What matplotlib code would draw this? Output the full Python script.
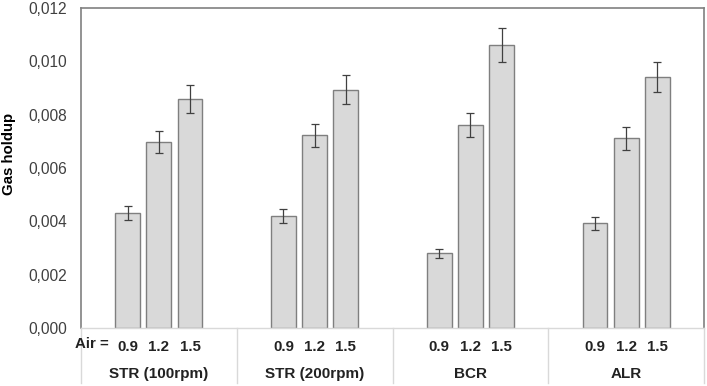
import matplotlib
matplotlib.use("Agg")
import matplotlib.pyplot as plt
import numpy as np
from matplotlib.transforms import blended_transform_factory
from matplotlib.lines import Line2D

groups = ["STR (100rpm)", "STR (200rpm)", "BCR", "ALR"]
air = ["0.9", "1.2", "1.5"]
values = {
    "0.9": [0.00430, 0.00420, 0.00280, 0.00393],
    "1.2": [0.00696, 0.00722, 0.00761, 0.00711],
    "1.5": [0.00859, 0.00893, 0.01062, 0.00941],
}
errors = {
    "0.9": [0.00026, 0.00026, 0.00016, 0.00024],
    "1.2": [0.00041, 0.00044, 0.00046, 0.00043],
    "1.5": [0.00052, 0.00054, 0.00064, 0.00056],
}
yticks = [0.0, 0.002, 0.004, 0.006, 0.008, 0.010, 0.012]
ytick_labels = ["0,000", "0,002", "0,004", "0,006", "0,008", "0,010", "0,012"]

plt.rcParams['font.family'] = ['Liberation Sans', 'DejaVu Sans']

fig = plt.figure(figsize=(7.07, 3.86), dpi=100)
ax = fig.add_axes([81/707, 58/386, 623/707, 320/386])

x = np.arange(len(groups))
offsets = [-0.2, 0.0, 0.2]
width = 0.16
for off, a in zip(offsets, air):
    ax.bar(x + off, values[a], width=width, color="#d9d9d9", edgecolor="#7f7f7f",
           linewidth=1.0, zorder=2)
    ax.errorbar(x + off, values[a], yerr=errors[a], fmt="none", ecolor="#404040",
                elinewidth=0.9, capsize=3, capthick=0.9, zorder=3)

ax.set_xlim(-0.5, len(groups) - 0.5)
ax.set_ylim(0, 0.012)
ax.set_yticks(yticks)
ax.set_yticklabels(ytick_labels, fontsize=11.2, color="#404040")
ax.tick_params(axis="y", length=0, pad=10)
ax.set_xticks([])
ax.set_ylabel("Gas holdup", fontsize=10.8, fontweight="bold")
ax.yaxis.set_label_coords(-0.104, 0.544)

for side in ["top", "right", "left"]:
    ax.spines[side].set_color("#808080")
    ax.spines[side].set_linewidth(1.2)
ax.spines["bottom"].set_color("#d9d9d9")
ax.spines["bottom"].set_linewidth(1.0)

trans = blended_transform_factory(ax.transData, fig.transFigure)
def fy(py):
    return 1 - py / 386

for i, g in enumerate(groups):
    for off, a in zip(offsets, air):
        fig.text(0, 0, a, transform=trans, fontsize=10.8, fontweight="bold",
                 ha="center", va="center", color="#222222").set_position((i + off, fy(347)))
    fig.text(0, 0, g, transform=trans, fontsize=11, fontweight="bold",
             ha="center", va="center", color="#222222").set_position((i, fy(374)))

fig.text(75/707, fy(344), "Air =", fontsize=10.8, fontweight="bold",
         ha="left", va="center", color="#222222")

for b in np.arange(-0.5, len(groups), 1.0):
    ln = Line2D([b, b], [fy(328), fy(383)], transform=trans, color="#d9d9d9",
                linewidth=1.0, clip_on=False)
    fig.add_artist(ln)

fig.savefig("out.png", dpi=100)
